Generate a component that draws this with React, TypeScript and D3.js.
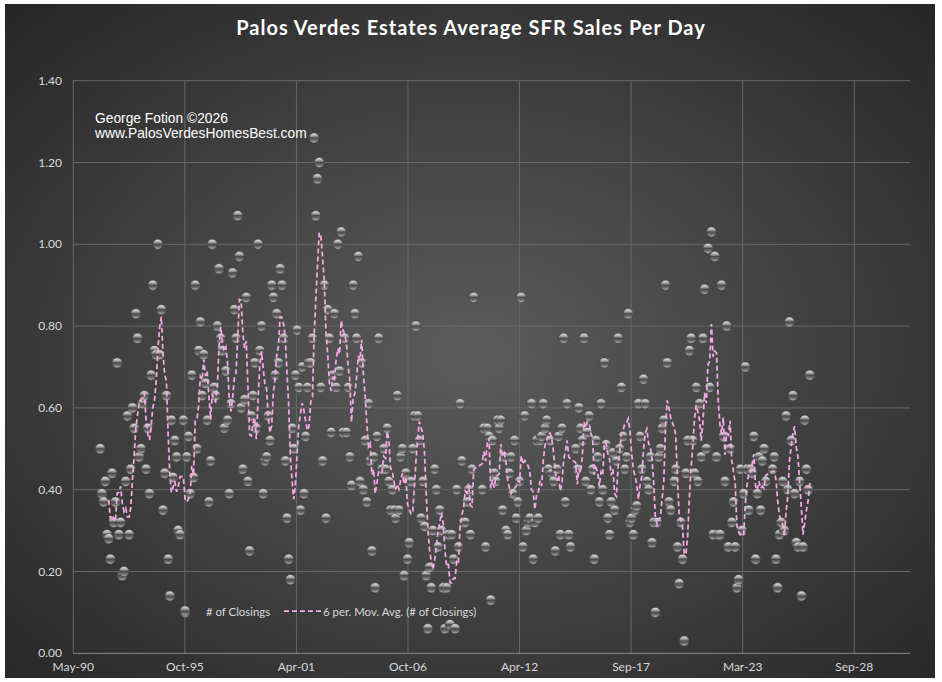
import React from 'react';
import * as d3 from 'd3';

// Monthly "# of Closings" (sales per day) in runs of consecutive months.
const runStarts = ['1991-09', '1995-10', '2000-09', '2005-07', '2010-06', '2015-01', '2019-11', '2024-09'];

const run1991 = [0.50, 0.39, 0.37, 0.42, 0.29, 0.28, 0.23, 0.44, 0.32, 0.37, 0.71, 0.29, 0.32, 0.19, 0.20, 0.42,
  0.58, 0.29, 0.45, 0.60, 0.55, 0.83, 0.77, 0.48, 0.50, 0.61, 0.63, 0.45, 0.55, 0.39, 0.68, 0.90, 0.74, 0.73,
  1.00, 0.73, 0.84, 0.35, 0.44, 0.63, 0.23, 0.14, 0.57, 0.43, 0.52, 0.48, 0.30, 0.29];
const run1995 = [0.57, 0.10, 0.48, 0.53, 0.39, 0.68, 0.43, 0.90, 0.50, 0.74, 0.81, 0.63, 0.73, 0.66, 0.57, 0.37,
  0.47, 1.00, 0.65, 0.63, 0.80, 0.94, 0.77, 0.74, 0.55, 0.69, 0.57, 0.39, 0.61, 0.93, 0.84, 0.77, 1.07, 0.97,
  0.60, 0.45, 0.62, 0.87, 0.42, 0.25, 0.58, 0.63, 0.71, 0.55, 1.00, 0.74, 0.80, 0.39, 0.47, 0.48, 0.58, 0.52,
  0.90, 0.87, 0.68, 0.83, 0.71, 0.94, 0.90];
const run2000 = [0.77, 0.47, 0.33, 0.23, 0.18, 0.55, 0.50, 0.68, 0.79, 0.65, 0.35, 0.70, 0.39, 0.53, 0.65, 0.71,
  0.71, 0.77, 1.26, 1.07, 1.16, 1.20, 0.65, 0.47, 0.90, 0.33, 0.84, 0.77, 0.54, 0.68, 0.83, 0.65, 1.00, 0.69,
  1.03, 0.54, 0.77, 0.54, 0.65, 0.48, 0.41, 0.90, 0.83, 0.77, 0.97, 0.42, 0.71, 0.40, 0.52, 0.37, 0.61, 0.47,
  0.25, 0.48, 0.16, 0.53, 0.77];
const run2005 = [0.45, 0.50, 0.45, 0.55, 0.42, 0.35, 0.40, 0.35, 0.33, 0.63, 0.35, 0.48, 0.50, 0.19, 0.44, 0.23,
  0.27, 0.42, 0.50, 0.58, 0.80, 0.58, 0.52, 0.33, 0.42, 0.31, 0.19, 0.06, 0.21, 0.16, 0.30, 0.45, 0.40, 0.26,
  0.35, 0.30, 0.16, 0.06, 0.16, 0.29, 0.07, 0.29, 0.23, 0.06, 0.40, 0.26, 0.61, 0.47, 0.32, 0.32, 0.37, 0.40,
  0.29, 0.45, 0.87];
const run2010 = [0.40, 0.55, 0.26, 0.55, 0.53, 0.13, 0.52, 0.44, 0.42, 0.57, 0.55, 0.57, 0.35, 0.48, 0.30, 0.29,
  0.44, 0.48, 0.39, 0.52, 0.33, 0.37, 0.42, 0.87, 0.26, 0.58, 0.30, 0.32, 0.33, 0.61, 0.23, 0.32, 0.52, 0.33,
  0.52, 0.53, 0.61, 0.55, 0.57, 0.45, 0.52, 0.44, 0.42, 0.25, 0.45, 0.53, 0.29, 0.55, 0.77, 0.37, 0.61, 0.29,
  0.26];
const run2015 = [0.50, 0.45, 0.60, 0.55, 0.52, 0.77, 0.42, 0.54, 0.58, 0.40, 0.45, 0.23, 0.52, 0.48, 0.37, 0.61,
  0.40, 0.71, 0.51, 0.33, 0.29, 0.37, 0.49, 0.35, 0.47, 0.77, 0.50, 0.65, 0.53, 0.45, 0.48, 0.83, 0.32, 0.33,
  0.29, 0.35, 0.36, 0.61, 0.53, 0.45, 0.67, 0.61, 0.42, 0.40, 0.48, 0.27, 0.32, 0.10, 0.32, 0.48, 0.50, 0.55,
  0.57, 0.90, 0.71, 0.37, 0.35];
const run2019 = [0.42, 0.45, 0.26, 0.17, 0.32, 0.23, 0.03, 0.44, 0.52, 0.74, 0.77, 0.52, 0.44, 0.65, 0.42, 0.61,
  0.48, 0.77, 0.89, 0.50, 0.99, 0.65, 1.03, 0.29, 0.97, 0.48, 0.29, 0.29, 0.90, 0.53, 0.42, 0.80, 0.26, 0.50,
  0.32, 0.37, 0.26, 0.16, 0.18, 0.45, 0.30, 0.39, 0.70, 0.45, 0.35, 0.45, 0.44, 0.53, 0.23, 0.39, 0.48, 0.35,
  0.47, 0.50, 0.42];
const run2024 = [0.45, 0.48, 0.23, 0.16, 0.29, 0.32, 0.42, 0.30, 0.58, 0.40, 0.81, 0.52, 0.63, 0.39, 0.27, 0.26,
  0.42, 0.14, 0.26, 0.57, 0.45, 0.40, 0.68];

const runs = [run1991, run1995, run2000, run2005, run2010, run2015, run2019, run2024];

// axis: Excel date serials, major unit 2000 days
const xMinSerial = 33000;
const xMaxSerial = 48000;
const xTickSerials = [33000, 35000, 37000, 39000, 41000, 43000, 45000, 47000];
const xTickLabels = ['May-90', 'Oct-95', 'Apr-01', 'Oct-06', 'Apr-12', 'Sep-17', 'Mar-23', 'Sep-28'];
const yTicks = [0, 0.2, 0.4, 0.6, 0.8, 1.0, 1.2, 1.4];

const title = 'Palos Verdes Estates Average SFR Sales Per Day';
const creditLines = ['George Fotion \u00a92026', 'www.PalosVerdesHomesBest.com'];
const seriesName = '# of Closings';
const trendName = '6 per. Mov. Avg. (# of Closings)';
const maPeriod = 6;

const serialToDate = (s: number) => new Date((s - 25569) * 86400000);

type Pt = { date: Date; value: number };

const points: Pt[] = [];
runs.forEach((vals, r) => {
  const [yy, mm] = runStarts[r].split('-').map(Number);
  vals.forEach((v, i) => {
    points.push({ date: new Date(Date.UTC(yy, mm - 1 + i, 1)), value: v });
  });
});

const movingAvg: Pt[] = points.slice(maPeriod - 1).map((p, i) => ({
  date: p.date,
  value: d3.mean(points.slice(i, i + maPeriod), (d) => d.value) as number,
}));

const W = 942;
const H = 682;
const plot = { left: 73.3, right: 910, top: 80.7, bottom: 653.3 };

const App: React.FC = () => {
  const x = d3
    .scaleUtc()
    .domain([serialToDate(xMinSerial), serialToDate(xMaxSerial)])
    .range([plot.left, plot.right]);
  const y = d3.scaleLinear().domain([0, 1.4]).range([plot.bottom, plot.top]);

  const line = d3
    .line<Pt>()
    .x((d) => x(d.date))
    .y((d) => y(d.value));

  const labelFont = 'Lato, "Open Sans", sans-serif';

  return (
    <svg
      width={W}
      height={H}
      style={{ position: 'absolute', left: 0, top: 0, display: 'block' }}
    >
      <defs>
        <radialGradient id="bg" cx="50%" cy="52%" r="72%">
          <stop offset="0%" stopColor="#5c5c5c" />
          <stop offset="100%" stopColor="#262626" />
        </radialGradient>
        <linearGradient id="ball" x1="0" y1="0" x2="0" y2="1">
          <stop offset="0%" stopColor="#eeeeee" />
          <stop offset="30%" stopColor="#a2a2a2" />
          <stop offset="50%" stopColor="#4a4a4a" />
          <stop offset="72%" stopColor="#6a6a6a" />
          <stop offset="100%" stopColor="#bdbdbd" />
        </linearGradient>
      </defs>
      <rect x={0} y={0} width={W} height={H} fill="#ffffff" />
      <rect x={5} y={4} width={930} height={674} fill="url(#bg)" />

      <text
        x={471}
        y={35}
        textAnchor="middle"
        fill="#ffffff"
        fontFamily={labelFont}
        fontWeight={700}
        fontSize={20}
        letterSpacing={1}
      >
        {title}
      </text>

      {/* gridlines */}
      {yTicks.slice(1).map((t) => (
        <line key={'gy' + t} x1={plot.left} x2={plot.right} y1={y(t)} y2={y(t)} stroke="#686868" strokeWidth={1} />
      ))}
      {xTickSerials.map((s) => (
        <line
          key={'gx' + s}
          x1={x(serialToDate(s))}
          x2={x(serialToDate(s))}
          y1={plot.top}
          y2={plot.bottom}
          stroke="#686868"
          strokeWidth={1}
        />
      ))}
      <line x1={plot.left} x2={plot.right} y1={plot.bottom} y2={plot.bottom} stroke="#8c8c8c" strokeWidth={1} />

      {/* tick labels */}
      {yTicks.map((t) => (
        <text
          key={'ty' + t}
          x={62}
          y={y(t) + 4}
          textAnchor="end"
          fill="#d9d9d9"
          fontFamily={labelFont}
          fontSize={12}
        >
          {t.toFixed(2)}
        </text>
      ))}
      {xTickSerials.map((s, i) => (
        <text
          key={'tx' + s}
          x={x(serialToDate(s))}
          y={671}
          textAnchor="middle"
          fill="#d9d9d9"
          fontFamily={labelFont}
          fontSize={12}
        >
          {xTickLabels[i]}
        </text>
      ))}

      {/* credit */}
      {creditLines.map((s, i) => (
        <text
          key={s}
          x={95}
          y={123 + i * 15}
          fill="#ffffff"
          fontFamily='"Liberation Sans", Arial, sans-serif'
          fontSize={13.8}
        >
          {s}
        </text>
      ))}

      {/* markers */}
      {points.map((p, i) => (
        <circle
          key={i}
          cx={x(p.date)}
          cy={y(p.value)}
          r={5}
          fill="url(#ball)"
          stroke="#3c3c3c"
          strokeWidth={0.5}
        />
      ))}

      {/* moving average */}
      <path
        d={line(movingAvg) || ''}
        fill="none"
        stroke="#f5a9e6"
        strokeWidth={1.75}
        strokeDasharray="5,3"
      />

      {/* legend */}
      <circle cx={185} cy={611} r={5} fill="url(#ball)" stroke="#3c3c3c" strokeWidth={0.5} />
      <text x={206} y={615.5} fill="#d9d9d9" fontFamily={labelFont} fontSize={11.4}>
        {seriesName}
      </text>
      <line x1={284} x2={322} y1={611} y2={611} stroke="#f5a9e6" strokeWidth={1.75} strokeDasharray="5,3" />
      <text x={323} y={615.5} fill="#d9d9d9" fontFamily={labelFont} fontSize={11.4}>
        {trendName}
      </text>
    </svg>
  );
};

export default App;
